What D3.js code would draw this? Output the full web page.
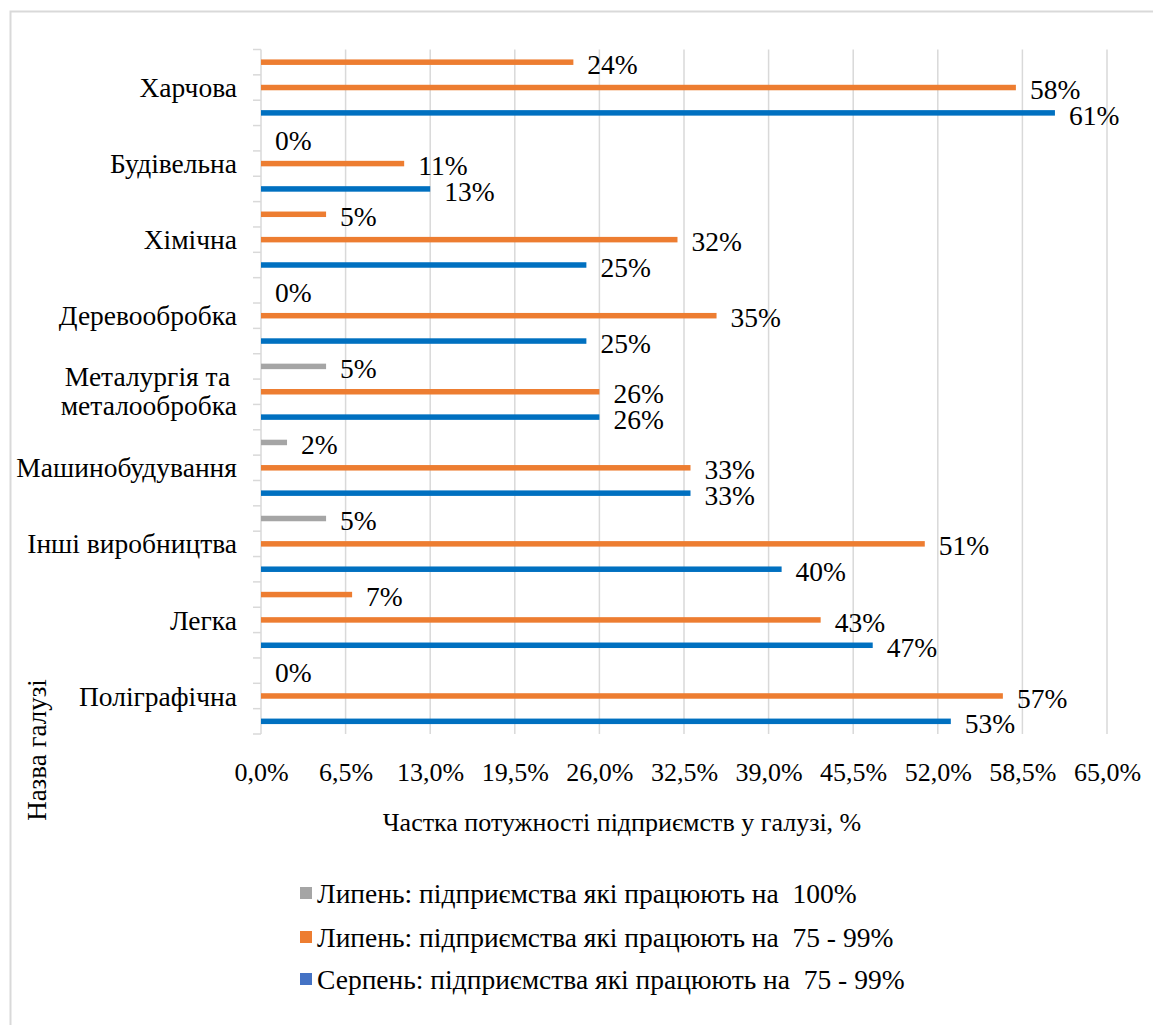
<!DOCTYPE html>
<html>
<head>
<meta charset="utf-8">
<script src="https://cdn.jsdelivr.net/npm/d3@7"></script>
<style>
  body { margin: 0; background: #fff; }
  text { font-family: "Liberation Serif", "Times New Roman", serif; fill: #000; }
</style>
</head>
<body>
<div id="grafik"></div>
<script>
// Галузі (зверху вниз)
var galuzi = ["Харчова", "Будівельна", "Хімічна", "Деревообробка", "Металургія та металообробка",
  "Машинобудування", "Інші виробництва", "Легка", "Поліграфічна"];

// Значення, %
var lypen100 = [24, 0, 5, 0, 5, 2, 5, 7, 0];
var lypen7599 = [58, 11, 32, 35, 26, 33, 51, 43, 57];
var serpen7599 = [61, 13, 25, 25, 26, 33, 40, 47, 53];

// Підписи осі X
var xTicks = [0, 6.5, 13, 19.5, 26, 32.5, 39, 45.5, 52, 58.5, 65];

var seriesNames = ["Липень: підприємства які працюють на  100%",
  "Липень: підприємства які працюють на  75 - 99%",
  "Серпень: підприємства які працюють на  75 - 99%"];

// у цих галузях перша серія пофарбована як друга (так на оригіналі)
var perefarbovani = ["Харчова", "Хімічна", "Легка"];

var W = 1153, H = 1025;
// межі області побудови (не "top" — це зайняте window.top)
var pLeft = 261, pRight = 1107, pTop = 49.5, pBottom = 734;
var fs = 27.5;

var svg = d3.select("#grafik").append("svg")
  .attr("width", W).attr("height", H);

// рамка (видно тільки ліву і верхню сторону)
svg.append("path")
  .attr("d", "M10.5," + H + "V11.5H" + W)
  .attr("fill", "none").attr("stroke", "#d9d9d9").attr("stroke-width", 2);

var x = d3.scaleLinear().domain([0, 65]).range([pLeft, pRight]);
var y = d3.scaleBand().domain(galuzi).range([pTop, pBottom]);
var ySub = d3.scaleBand().domain([0, 1, 2]).range([0, y.bandwidth()]);

var kolory = ["#a5a5a5", "#ed7d31", "#0070c0"];
var legendKolory = ["#a5a5a5", "#ed7d31", "#4472c4"];

// сітка
svg.append("g").selectAll("line").data(xTicks.slice(1)).join("line")
  .attr("x1", d => x(d)).attr("x2", d => x(d))
  .attr("y1", pTop).attr("y2", pBottom)
  .attr("stroke", "#d9d9d9").attr("stroke-width", 1.5);

// вісь Y з рисками на кожну третину категорії
var tickYs = [];
galuzi.forEach(function (g) {
  for (var k = 0; k < 3; k++) tickYs.push(y(g) + k * y.bandwidth() / 3);
});
tickYs.push(pBottom);
svg.append("line")
  .attr("x1", pLeft).attr("x2", pLeft).attr("y1", pTop).attr("y2", pBottom)
  .attr("stroke", "#d9d9d9").attr("stroke-width", 1.5);
svg.append("g").selectAll("line").data(tickYs).join("line")
  .attr("x1", pLeft - 8).attr("x2", pLeft).attr("y1", d => d).attr("y2", d => d)
  .attr("stroke", "#d9d9d9").attr("stroke-width", 1.5);

// підписи осі X
var xAxis = d3.axisBottom(x).tickValues(xTicks).tickSize(0)
  .tickFormat(d => d.toFixed(1).replace(".", ",") + "%");
var gx = svg.append("g").attr("transform", "translate(0," + (pBottom + 26) + ")").call(xAxis);
gx.select(".domain").remove();
gx.selectAll("text").attr("font-size", 26).attr("font-family", "Liberation Serif");

// назви галузей
var catLabels = svg.append("g").selectAll("text").data(galuzi).join("text")
  .attr("x", 237)
  .attr("y", d => y(d) + y.bandwidth() / 2)
  .attr("text-anchor", "end")
  .attr("font-size", fs)
  .style("white-space", "pre");
catLabels.each(function (d) {
  var t = d3.select(this);
  if (d === "Металургія та металообробка") {
    t.append("tspan").attr("x", 237).attr("dy", "-0.2em").text("Металургія та ");
    t.append("tspan").attr("x", 237).attr("dy", "1.06em").text("металообробка");
  } else {
    t.attr("dy", "0.35em").text(d);
  }
});

// смуги
var dani = [lypen100, lypen7599, serpen7599];
var barH = 5.5;
dani.forEach(function (vals, s) {
  var g = svg.append("g");
  g.selectAll("rect").data(vals).join("rect")
    .attr("x", pLeft)
    .attr("y", (d, i) => y(galuzi[i]) + ySub(s) + ySub.bandwidth() / 2 - barH / 2)
    .attr("width", d => x(d) - pLeft)
    .attr("height", barH)
    .attr("fill", (d, i) => (s === 0 && perefarbovani.indexOf(galuzi[i]) >= 0) ? kolory[1] : kolory[s]);
  g.selectAll("text").data(vals).join("text")
    .attr("x", d => x(d) + 14)
    .attr("y", (d, i) => y(galuzi[i]) + ySub(s) + ySub.bandwidth() / 2 + 2)
    .attr("dy", "0.35em")
    .attr("font-size", fs)
    .text(d => d + "%");
});

// назви осей
svg.append("text")
  .attr("x", 622).attr("y", 822).attr("dy", "0.35em")
  .attr("text-anchor", "middle").attr("font-size", 26)
  .text("Частка потужності підприємств у галузі, %");

svg.append("text")
  .attr("transform", "translate(37,750) rotate(-90)")
  .attr("dy", "0.35em").attr("text-anchor", "middle").attr("font-size", 27)
  .text("Назва галузі");

// легенда
var legY = [893, 937, 979];
var leg = svg.append("g").selectAll("g").data(seriesNames).join("g")
  .attr("transform", (d, i) => "translate(300," + legY[i] + ")");
leg.append("rect").attr("x", 0).attr("y", -6).attr("width", 12).attr("height", 12)
  .attr("fill", (d, i) => legendKolory[i]);
leg.append("text").attr("x", 17).attr("dy", "0.35em").attr("font-size", fs)
  .style("white-space", "pre")
  .text(d => d);
</script>
</body>
</html>
